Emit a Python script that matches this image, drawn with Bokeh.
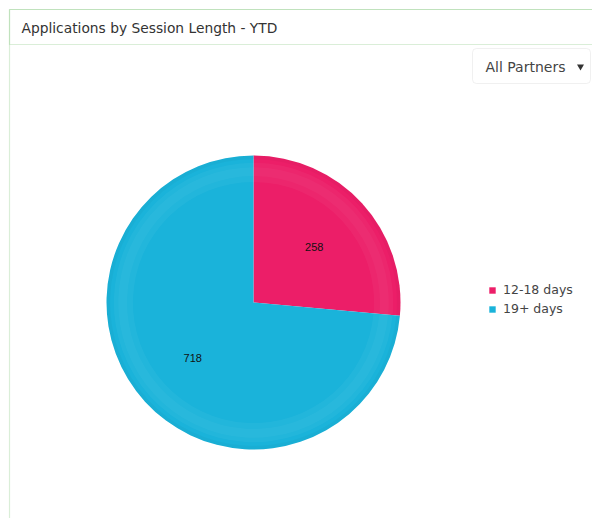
import math
from bokeh.plotting import figure
from bokeh.models import Range1d, Label, BoxAnnotation, Legend, LegendItem, ColumnDataSource
from bokeh.embed import file_html
from bokeh.resources import INLINE

# ---- data ----
categories = ["12-18 days", "19+ days"]
values = [258, 718]
colors = ["#EC1E68", "#1AB3DA"]
title_text = "Applications by Session Length - YTD"
dropdown_text = "All Partners"

W, H = 592, 518
p = figure(width=W, height=H, output_backend="svg", toolbar_location=None,
           x_range=Range1d(0, W), y_range=Range1d(0, H), min_border=0)
p.axis.visible = False
p.grid.visible = False
p.outline_line_color = None
p.background_fill_color = "white"
p.border_fill_color = "white"

green = "#84C77F"
# panel border (left + top) and title separator
p.add_layout(BoxAnnotation(left=9, right=W + 20, top=H - 9, bottom=-20,
                           fill_alpha=0, line_color=green, line_width=1.2, level="underlay"))
p.add_layout(BoxAnnotation(left=9, right=W + 20, top=H - 9, bottom=H - 44,
                           fill_alpha=0, line_color=green, line_width=1.2, level="underlay"))

p.add_layout(Label(x=21, y=H - 27, text=title_text, text_font="DejaVu Sans",
                   text_font_size="13.8px", text_color="#333333", text_baseline="middle"))

# dropdown button
p.add_layout(BoxAnnotation(left=472, right=590, top=H - 48, bottom=H - 83,
                           fill_color="white", fill_alpha=1, line_color="#cccccc",
                           line_width=1, border_radius=4, level="underlay"))
p.add_layout(Label(x=485, y=H - 66, text=dropdown_text, text_font="DejaVu Sans",
                   text_font_size="14px", text_color="#444444", text_baseline="middle"))
p.scatter(x=[580], y=[H - 66], marker="inverted_triangle", size=7,
          fill_color="#333333", line_color=None)

# pie
cx, cy, r = 253, H - 302, 147
total = sum(values)
starts, ends = [], []
acc = 0
for v in values:
    a0 = math.pi / 2 - 2 * math.pi * acc / total
    acc += v
    a1 = math.pi / 2 - 2 * math.pi * acc / total
    starts.append(a1)
    ends.append(a0)

src = ColumnDataSource(dict(cat=categories, val=values, color=colors,
                            start=starts, end=ends))
wr = p.wedge(x=cx, y=cy, radius=r, start_angle="start", end_angle="end",
             fill_color="color", line_color=None, source=src)

# subtle shading rings
for inner, outer, col, alpha in [(0.82, 0.95, "white", 0.04), (0.86, 0.92, "white", 0.03),
                                 (0.975, 1.0, "#000000", 0.025)]:
    p.annular_wedge(x=cx, y=cy, inner_radius=inner * r, outer_radius=outer * r,
                    start_angle="start", end_angle="end", fill_color=col,
                    fill_alpha=alpha, line_color=None, source=src)

# value labels
lx, ly, lt = [], [], []
for s, e, v in zip(starts, ends, values):
    mid = (s + e) / 2
    lx.append(cx + 0.56 * r * math.cos(mid))
    ly.append(cy + 0.56 * r * math.sin(mid))
    lt.append(str(v))
p.text(x=lx, y=ly, text=lt, text_font_size="11px", text_color="#111111",
       text_align="center", text_baseline="middle")

legend = Legend(items=[LegendItem(label=c, renderers=[wr], index=i) for i, c in enumerate(categories)],
                location=(488, 202), glyph_width=8, glyph_height=8, label_height=12,
                label_standoff=7, spacing=4, padding=0, margin=0,
                border_line_color=None, background_fill_alpha=0,
                label_text_font_size="12.5px", label_text_color="#444444",
                label_text_font="DejaVu Sans")
p.add_layout(legend)

open("out.html", "w").write(file_html(p, INLINE))
